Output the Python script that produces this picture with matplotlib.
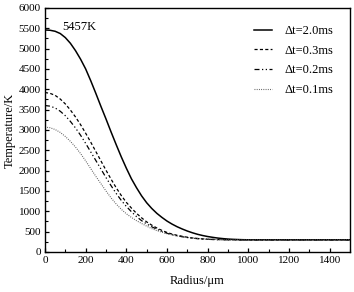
import matplotlib
matplotlib.use('Agg')
import matplotlib.pyplot as plt
from matplotlib.ticker import MultipleLocator

plt.rcParams['font.family'] = ['Liberation Serif', 'DejaVu Serif']

# radius samples (um) and temperatures (K)
radius = list(range(0, 1001, 25)) + [1100, 1200, 1300, 1400, 1500]

temp_20 = [5457, 5450, 5425, 5370, 5270, 5130, 4950, 4740, 4500, 4210,
           3900, 3580, 3270, 2950, 2640, 2340, 2060, 1800, 1580, 1380,
           1210, 1070, 950, 850, 760, 685, 620, 565, 515, 472,
           435, 405, 380, 360, 342, 329, 318, 311, 306, 302,
           300, 300, 300, 300, 300, 300]
temp_03 = [3920, 3900, 3850, 3760, 3640, 3490, 3320, 3130, 2920, 2700,
           2470, 2240, 2010, 1790, 1580, 1390, 1220, 1080, 950, 840,
           740, 660, 590, 530, 480, 440, 410, 385, 362, 345,
           332, 322, 314, 309, 305, 302, 301, 300, 300, 300,
           300, 300, 300, 300, 300, 300]
temp_02 = [3600, 3585, 3540, 3460, 3350, 3210, 3050, 2870, 2670, 2460,
           2250, 2040, 1830, 1630, 1440, 1270, 1120, 990, 870, 770,
           690, 620, 560, 505, 460, 425, 397, 375, 355, 340,
           328, 319, 312, 307, 304, 302, 300, 300, 300, 300,
           300, 300, 300, 300, 300, 300]
temp_01 = [3070, 3055, 3010, 2940, 2840, 2720, 2580, 2420, 2240, 2050,
           1860, 1680, 1500, 1330, 1180, 1050, 940, 850, 770, 700,
           635, 575, 525, 485, 450, 420, 395, 375, 358, 344,
           333, 324, 316, 310, 306, 303, 301, 300, 300, 300,
           300, 300, 300, 300, 300, 300]

labels = ['Δt=2.0ms', 'Δt=0.3ms', 'Δt=0.2ms', 'Δt=0.1ms']

fig = plt.figure(figsize=(3.54, 2.92), dpi=100)
ax = fig.add_axes([0.127, 0.137, 0.862, 0.836])

ax.plot(radius, temp_20, color='black', lw=1.1, label=labels[0])
ax.plot(radius, temp_03, color='black', lw=0.9, dashes=(2.5, 1.8), label=labels[1])
ax.plot(radius, temp_02, color='black', lw=0.9, dashes=(4, 2, 1, 2, 1, 2), label=labels[2])
ax.plot(radius, temp_01, color='#555555', lw=0.8, dashes=(0.8, 1.2), label=labels[3])

ax.text(84, 5530, '5457K', fontsize=9, va='center', ha='left')

ax.set_xlim(0, 1500)
ax.set_ylim(0, 6000)
ax.xaxis.set_major_locator(MultipleLocator(200))
ax.xaxis.set_minor_locator(MultipleLocator(100))
ax.yaxis.set_major_locator(MultipleLocator(500))
ax.yaxis.set_minor_locator(MultipleLocator(250))
ax.tick_params(which='both', direction='in', labelsize=8, top=False, right=False)
ax.tick_params(which='major', length=3, width=0.9, pad=3)
ax.tick_params(which='minor', length=2, width=0.8)
for s in ax.spines.values():
    s.set_linewidth(1.0)

ax.set_xlabel('Radius/μm', fontsize=9, labelpad=7)
ax.set_ylabel('Temperature/K', fontsize=9, labelpad=2)

ax.legend(loc='upper right', bbox_to_anchor=(0.946, 0.93), frameon=False,
          fontsize=9, handlelength=1.45, handletextpad=1.0, labelspacing=0.62,
          borderpad=0, borderaxespad=0)

fig.savefig('out.png', dpi=100)
